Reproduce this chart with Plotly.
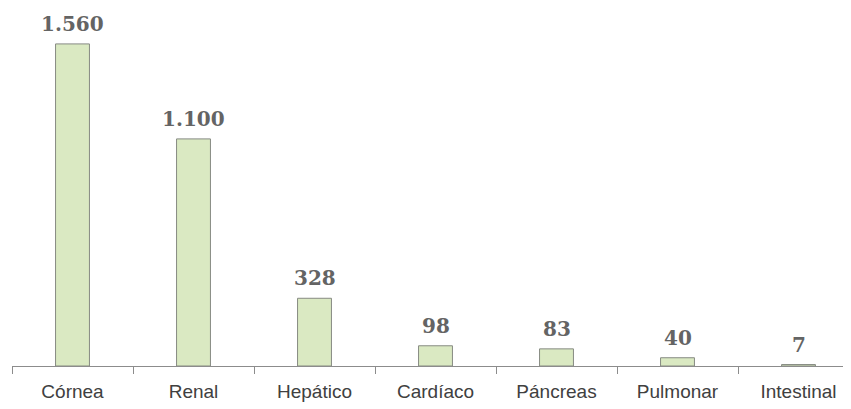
import plotly.graph_objects as go

categories = ["Córnea", "Renal", "Hepático", "Cardíaco", "Páncreas", "Pulmonar", "Intestinal"]
values = [1560, 1100, 328, 98, 83, 40, 7]
labels = [f"{v:,}".replace(",", ".") for v in values]

fig = go.Figure()
fig.add_trace(go.Bar(
    x=categories, y=values, width=0.28,
    marker=dict(color="#dae9c2", line=dict(color="#868a82", width=1)),
    hoverinfo="skip",
))
for c, v, t in zip(categories, values, labels):
    fig.add_annotation(x=c, y=v, text=f"<b>{t}</b>", showarrow=False,
                       yanchor="bottom", yshift=6,
                       font=dict(family="DejaVu Serif", size=20, color="#646464"))

fig.update_layout(
    width=851, height=409,
    margin=dict(l=4, r=0, t=0, b=51),
    paper_bgcolor="white", plot_bgcolor="white",
    showlegend=False,
    bargap=0.72,
    xaxis=dict(range=[-0.5, 6.5], showline=True, linecolor="#8c8c8c", linewidth=1,
               ticks="outside", tickson="boundaries", ticklen=7, tickcolor="#8c8c8c",
               tickfont=dict(family="Liberation Sans", size=19, color="#404040"),
               showgrid=False, zeroline=False, fixedrange=True, automargin=False,
               ticklabelstandoff=8),
    yaxis=dict(range=[0, 1734], visible=False, showgrid=False, zeroline=False,
               automargin=False),
)
fig.write_html("out.html")
